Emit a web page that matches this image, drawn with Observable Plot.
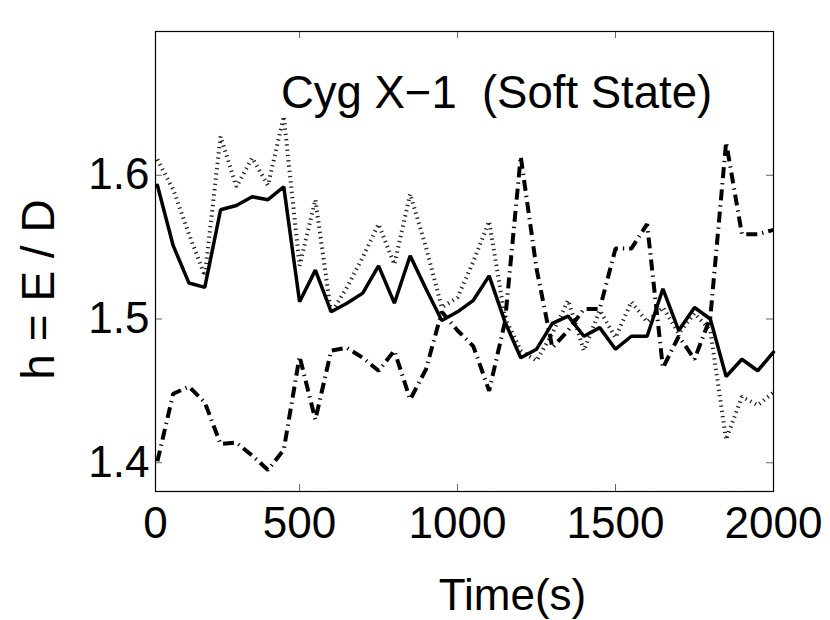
<!DOCTYPE html>
<html><head><meta charset="utf-8">
<script src="https://cdn.jsdelivr.net/npm/d3@7"></script>
<script src="https://cdn.jsdelivr.net/npm/@observablehq/plot@0.6"></script>
<style>body{margin:0;background:#fff}</style>
</head><body><div id="chart"></div>
<script>
const time = [50,100,150,200,250,300,350,400,450,500,550,600,650,700,750,800,850,900,950,1000,
  1050,1100,1150,1200,1250,1300,1350,1400,1450,1500,1550,1600,1650,1700,1750,1800,1850,1900,1950,2000];
const hSolid = [1.593,1.551,1.525,1.522,1.576,1.579,1.585,1.583,1.592,1.512,
  1.534,1.505,1.511,1.518,1.537,1.511,1.544,1.521,1.499,1.505,
  1.513,1.530,1.498,1.473,1.479,1.497,1.502,1.488,1.494,1.479,
  1.488,1.488,1.521,1.492,1.508,1.500,1.460,1.472,1.464,1.477];
const hDotted = [1.611,1.590,1.559,1.530,1.627,1.592,1.612,1.593,1.641,1.537,
  1.583,1.504,1.522,1.543,1.566,1.538,1.587,1.550,1.508,1.515,
  1.540,1.568,1.501,1.478,1.471,1.490,1.513,1.478,1.506,1.487,
  1.512,1.498,1.508,1.490,1.504,1.492,1.416,1.446,1.440,1.449];
const hDashDot = [1.401,1.448,1.453,1.442,1.413,1.414,1.405,1.395,1.409,1.474,
  1.430,1.478,1.480,1.473,1.464,1.478,1.444,1.465,1.505,1.492,
  1.481,1.450,1.498,1.613,1.535,1.480,1.492,1.507,1.507,1.549,
  1.549,1.566,1.466,1.488,1.472,1.501,1.623,1.559,1.559,1.562];
const xTicks = [44, 500, 1000, 1500, 2000];
const xTickLabels = ["0", "500", "1000", "1500", "2000"];
const yTicks = [1.4, 1.5, 1.6];
const yTickLabels = ["1.4", "1.5", "1.6"];
const titleText = "Cyg X\u22121\u00a0 (Soft State)";
const xLabel = "Time(s)";
const yLabel = "h = E / D";

const rows = vals => time.map((t, i) => ({t, h: vals[i]}));
const font = "'Liberation Sans', Arial, Helvetica, sans-serif";

const chart = Plot.plot({
  width: 830, height: 620,
  marginLeft: 155, marginRight: 57, marginTop: 31, marginBottom: 129,
  style: {fontFamily: font, background: "white", color: "black"},
  x: {domain: [44, 2000]},
  y: {domain: [1.38, 1.70]},
  marks: [
    Plot.tickX(xTicks, {x: d => d, insetTop: 453, stroke: "#666", strokeWidth: 1}),
    Plot.tickX(xTicks, {x: d => d, insetBottom: 453, stroke: "#666", strokeWidth: 1}),
    Plot.tickY(yTicks, {y: d => d, insetRight: 611, stroke: "#666", strokeWidth: 1}),
    Plot.tickY(yTicks, {y: d => d, insetLeft: 611, stroke: "#666", strokeWidth: 1}),
    Plot.line(rows(hDotted), {x: "t", y: "h", stroke: "#222", strokeWidth: 4, strokeDasharray: "1.3,4", strokeLinecap: "butt", strokeLinejoin: "miter"}),
    Plot.line(rows(hDashDot), {x: "t", y: "h", stroke: "black", strokeWidth: 4, strokeDasharray: "11,5,1.3,5", strokeLinecap: "butt", strokeLinejoin: "miter"}),
    Plot.line(rows(hSolid), {x: "t", y: "h", stroke: "black", strokeWidth: 3.5, strokeLinejoin: "miter"}),
    Plot.frame({stroke: "black", strokeWidth: 1.2}),
    Plot.axisX(xTicks, {tickSize: 0, tickPadding: 15, fontSize: 44, label: null,
      tickFormat: d => xTickLabels[xTicks.indexOf(d)]}),
    Plot.axisY(yTicks, {tickSize: 0, tickPadding: 6, fontSize: 44, label: null,
      tickFormat: d => yTickLabels[yTicks.indexOf(d)]}),
    Plot.text([titleText], {text: d => d, frameAnchor: "top", lineAnchor: "top", dx: 32, dy: 44, fontSize: 45.5, fill: "black"}),
    Plot.text([xLabel], {text: d => d, frameAnchor: "bottom", lineAnchor: "top", dx: 48, dy: 87, fontSize: 44, fill: "black"}),
    Plot.text([yLabel], {text: d => d, frameAnchor: "left", textAnchor: "middle", rotate: -90, dx: -116, dy: 28, fontSize: 46, fill: "black"})
  ]
});
document.getElementById("chart").appendChild(chart);
</script>
</body></html>
